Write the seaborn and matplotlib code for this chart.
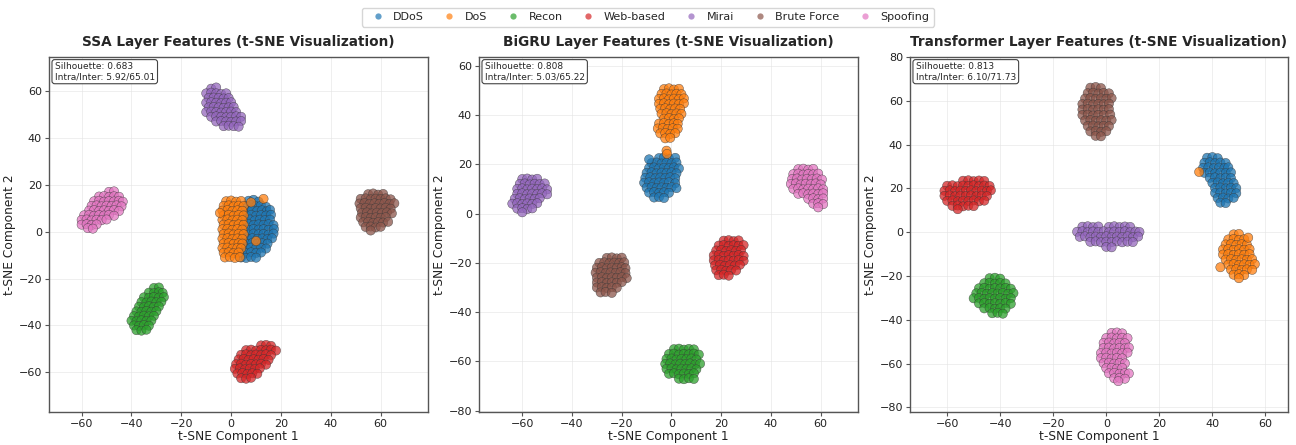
import matplotlib
matplotlib.use("Agg")
import matplotlib.pyplot as plt
from matplotlib.lines import Line2D
import seaborn as sns
import pandas as pd

CLASSES = ["DDoS", "DoS", "Recon", "Web-based", "Mirai", "Brute Force", "Spoofing"]
COLORS = ["#1f77b4", "#ff7f0e", "#2ca02c", "#d62728", "#9467bd", "#8c564b", "#e377c2"]
TITLES = ["SSA Layer Features (t-SNE Visualization)",
          "BiGRU Layer Features (t-SNE Visualization)",
          "Transformer Layer Features (t-SNE Visualization)"]
SILHOUETTE = ["0.683", "0.808", "0.813"]
INTRA_INTER = ["5.92/65.01", "5.03/65.22", "6.10/71.73"]

# ---------------- SSA layer ----------------
SSA_DDOS = [(7,13.2),(9,13.6),(11,12.8),
    (6,11),(8,11.3),(10,10.8),(12,11.2),(14,10.6),
    (6.4,9),(8.4,9.2),(10.4,8.8),(12.4,9.1),(14.3,8.7),(15.6,9.3),
    (6,7),(8,7.2),(10,6.8),(12,7.1),(14,6.9),(16,7.2),
    (5.5,5),(7.5,5.2),(9.5,4.8),(11.5,5.1),(13.5,4.9),(15.6,5.1),
    (5,3),(7,3.2),(9,2.8),(11,3.1),(13,2.9),(15,3.2),(17,2.8),
    (5,1),(7,0.8),(9,1.2),(11,0.9),(13,1.1),(15,0.8),(17.2,1.1),
    (5,-1),(7,-1.2),(9,-0.8),(11,-1.1),(13,-0.9),(15,-1.2),(17,-0.8),
    (4.5,-3),(6.5,-3.2),(8.5,-2.8),(10.5,-3.1),(12.5,-2.9),(14.5,-3.2),(16.4,-2.8),
    (4.5,-5),(6.5,-5.2),(8.5,-4.8),(10.5,-5.1),(12.5,-4.9),(14.6,-5.1),
    (4,-7),(6,-7.2),(8,-6.8),(10,-7.1),(12,-6.9),(14,-7.2),
    (4,-9),(6,-9.2),(8,-8.8),(10,-9.1),(12,-8.9),
    (4,-11),(6,-11.2),(8,-10.8),(10,-11.1)]
SSA_DOS = [(-2,13),(0,13.3),(2,12.8),(4,13.1),
    (-3,11),(-1,11.2),(1,10.8),(3,11.1),(5,10.9),
    (-3.5,9),(-1.5,9.2),(0.5,8.8),(2.5,9.1),(4.5,8.9),
    (-3,7),(-1,7.2),(1,6.8),(3,7.1),(5,6.9),
    (-3.5,5),(-1.5,5.2),(0.5,4.8),(2.5,5.1),(4.5,4.9),
    (-3,3),(-1,3.2),(1,2.8),(3,3.1),(5,2.9),
    (-3.5,1),(-1.5,1.2),(0.5,0.8),(2.5,1.1),(4.5,0.9),
    (-3,-1),(-1,-0.8),(1,-1.2),(3,-0.9),(5,-1.1),
    (-3.5,-3),(-1.5,-2.8),(0.5,-3.2),(2.5,-2.9),(4.5,-3.1),
    (-3,-5),(-1,-4.8),(1,-5.2),(3,-4.9),(4.5,-5.1),
    (-3.5,-7),(-1.5,-6.8),(0.5,-7.2),(2.5,-6.9),(4,-7.1),
    (-3,-9),(-1,-8.8),(1,-9.2),(3,-8.9),
    (-2.5,-11),(-0.5,-10.8),(1.5,-11.2),(3.5,-10.9),
    (13,14),(10,-4),(8,12.5),(-4.5,8)]
SSA_RECON = [(-31,-24),(-29,-23.8),
    (-33,-26),(-31,-26.2),(-29,-25.8),(-27.5,-26.1),
    (-35,-28),(-33,-28.2),(-31,-27.8),(-29,-28.1),(-27,-27.9),
    (-36,-30),(-34,-30.2),(-32,-29.8),(-30,-30.1),(-28,-29.9),
    (-37,-32),(-35,-32.2),(-33,-31.8),(-31,-32.1),(-29,-31.9),
    (-38,-34),(-36,-34.2),(-34,-33.8),(-32,-34.1),(-30,-33.9),
    (-39,-36),(-37,-36.2),(-35,-35.8),(-33,-36.1),(-31,-35.9),
    (-40,-38),(-38,-38.2),(-36,-37.8),(-34,-38.1),(-32,-37.9),
    (-39,-40),(-37,-40.2),(-35,-39.8),(-33,-40.1),
    (-38,-42),(-36,-42.2),(-34,-41.8)]
SSA_WEB = [(12,-48.5),(14,-48.3),(16,-48.7),
    (6,-50.5),(8,-50.3),(10,-50.7),(12,-50.4),(14,-50.6),(16,-50.3),(18,-50.7),
    (4,-52.5),(6,-52.3),(8,-52.7),(10,-52.4),(12,-52.6),(14,-52.3),(16,-52.7),
    (3,-54.5),(5,-54.3),(7,-54.7),(9,-54.4),(11,-54.6),(13,-54.3),(15,-54.7),
    (2,-56.5),(4,-56.3),(6,-56.7),(8,-56.4),(10,-56.6),(12,-56.3),(14,-56.7),
    (1.5,-58.5),(3.5,-58.3),(5.5,-58.7),(7.5,-58.4),(9.5,-58.6),(11.5,-58.3),
    (2.5,-60.5),(4.5,-60.3),(6.5,-60.7),(8.5,-60.4),(10.5,-60.6),
    (4,-62.5),(6,-62.7),(8,-62.3)]
SSA_MIRAI = [(-8,61),(-6,61.5),
    (-10,59),(-8,59.3),(-6,59),(-4,58.7),(-2,59),
    (-9,57),(-7,57.2),(-5,57),(-3,56.8),(-1,57),
    (-10,55),(-8,55.2),(-6,55),(-4,54.8),(-2,55),(0,55.2),
    (-9,53),(-7,53.2),(-5,53),(-3,52.8),(-1,53),(1,53.2),
    (-10,51),(-8,51.2),(-6,51),(-4,50.8),(-2,51),(0,51.2),(2,51),
    (-8,49),(-6,49.2),(-4,49),(-2,48.8),(0,49),(2,49.2),(4,49),
    (-6,47),(-4,47.2),(-2,47),(0,46.8),(2,47),(4,47.2),
    (-3,45),(-1,45.2),(1,45),(3,44.8)]
SSA_BRUTE = [(55,16),(57,16.3),(59,15.8),(61,16.1),
    (52,14),(54,14.2),(56,13.8),(58,14.1),(60,13.9),(62,14.2),(64,13.8),
    (51.5,12),(53.5,12.2),(55.5,11.8),(57.5,12.1),(59.5,11.9),(61.5,12.2),(63.5,11.8),(65.5,12.1),
    (52,10),(54,10.2),(56,9.8),(58,10.1),(60,9.9),(62,10.2),(64,9.8),
    (52.5,8),(54.5,8.2),(56.5,7.8),(58.5,8.1),(60.5,7.9),(62.5,8.2),(64.5,7.8),
    (52,6),(54,6.2),(56,5.8),(58,6.1),(60,5.9),(62,6.2),
    (53,4),(55,4.2),(57,3.8),(59,4.1),(61,3.9),(63,4.2),
    (54,2),(56,2.2),(58,1.8),(60,2.1),(56,0.5)]
SSA_SPOOF = [(-49,17),(-47,17.2),
    (-53,15),(-51,15.2),(-49,14.8),(-47,15.1),(-45,14.9),
    (-55,13),(-53,13.2),(-51,12.8),(-49,13.1),(-47,12.9),(-45,13.2),(-43.5,12.8),
    (-56,11),(-54,11.2),(-52,10.8),(-50,11.1),(-48,10.9),(-46,11.2),(-44,10.8),
    (-57,9),(-55,9.2),(-53,8.8),(-51,9.1),(-49,8.9),(-47,9.2),(-45,8.8),
    (-59,7),(-57,7.2),(-55,6.8),(-53,7.1),(-51,6.9),(-49,7.2),(-47,6.8),
    (-60,5),(-58,5.2),(-56,4.8),(-54,5.1),(-52,4.9),(-50,5.2),
    (-60,3),(-58,3.2),(-56,2.8),(-54,3.1),
    (-57.5,1.5),(-55.5,1.3)]

# ---------------- BiGRU layer ----------------
BIGRU_DDOS = [(-5,22.5),(-3,22.8),(-1,22.3),(1.5,22.6),
    (-8,20.5),(-6,20.7),(-4,20.3),(-2,20.6),(0,20.4),(2,20.7),
    (-9,18.5),(-7,18.7),(-5,18.3),(-3,18.6),(-1,18.4),(1,18.7),(3,18.3),
    (-10,16.5),(-8,16.7),(-6,16.3),(-4,16.6),(-2,16.4),(0,16.7),(2,16.3),
    (-10.5,14.5),(-8.5,14.7),(-6.5,14.3),(-4.5,14.6),(-2.5,14.4),(-0.5,14.7),(1.5,14.3),
    (-11,12.5),(-9,12.7),(-7,12.3),(-5,12.6),(-3,12.4),(-1,12.7),(1.5,12.3),
    (-10,10.5),(-8,10.7),(-6,10.3),(-4,10.6),(-2,10.4),(0,10.7),(2,10.3),
    (-9,8.5),(-7,8.7),(-5,8.3),(-3,8.6),(-1,8.4),
    (-7,6.5),(-5,6.7),(-3,6.3),(-9,22)]
BIGRU_DOS = [(-3,50.5),(-1,50.8),(1,50.3),(3,50.6),
    (-4,48.5),(-2,48.7),(0,48.3),(2,48.6),(4,48.4),
    (-5,46.5),(-3,46.7),(-1,46.3),(1,46.6),(3,46.4),(5,46.7),
    (-5,44.5),(-3,44.7),(-1,44.3),(1,44.6),(3,44.4),(5,44.7),
    (-4.5,42.5),(-2.5,42.7),(-0.5,42.3),(1.5,42.6),(3.5,42.4),
    (-4,40.5),(-2,40.7),(0,40.3),(2,40.6),(4,40.4),
    (-3,38.5),(-1,38.7),(1,38.3),(3,38.6),
    (-5,36.5),(-3,36.7),(-1,36.3),(1,36.6),(2.5,36.4),
    (-5.5,34.5),(-3.5,34.7),(-1.5,34.3),(0.5,34.6),(2.5,34.4),
    (-4.5,32.5),(-2.5,32.7),(-0.5,32.3),(1.5,32.6),
    (-2.5,30.5),(-0.5,30.7),(-2,25.5),(-1.8,24.2)]
BIGRU_RECON = [(1,-55),(3,-54.8),(5,-55.2),(7,-54.9),(9,-55.1),
    (-1,-57),(1,-56.8),(3,-57.2),(5,-56.9),(7,-57.1),(9,-56.8),(11,-57.2),
    (-2,-59),(0,-58.8),(2,-59.2),(4,-58.9),(6,-59.1),(8,-58.8),(10,-59.2),
    (-2.5,-61),(-0.5,-60.8),(1.5,-61.2),(3.5,-60.9),(5.5,-61.1),(7.5,-60.8),(9.5,-61.2),(11.5,-60.9),
    (-2,-63),(0,-62.8),(2,-63.2),(4,-62.9),(6,-63.1),(8,-62.8),(10,-63.2),
    (-1,-65),(1,-64.8),(3,-65.2),(5,-64.9),(7,-65.1),(9,-64.8),
    (3,-67),(5,-67.2),(7,-66.8),(9,-67.1)]
BIGRU_WEB = [(21,-11),(23,-10.8),(25,-11.2),(27,-10.9),
    (19,-13),(21,-12.8),(23,-13.2),(25,-12.9),(27,-13.1),(29,-12.8),
    (18,-15),(20,-14.8),(22,-15.2),(24,-14.9),(26,-15.1),(28,-14.8),
    (17,-17),(19,-16.8),(21,-17.2),(23,-16.9),(25,-17.1),(27,-16.8),(29,-17.2),
    (17,-19),(19,-18.8),(21,-19.2),(23,-18.9),(25,-19.1),(27,-18.8),(29,-19.2),
    (17.5,-21),(19.5,-20.8),(21.5,-21.2),(23.5,-20.9),(25.5,-21.1),(27.5,-20.8),
    (18,-23),(20,-22.8),(22,-23.2),(24,-22.9),(26,-23.1),
    (19,-25),(21,-24.8),(23,-25.2)]
BIGRU_MIRAI = [(-60,14),(-58,14.2),(-56,13.8),(-54,14.1),
    (-61,12),(-59,12.2),(-57,11.8),(-55,12.1),(-53,11.9),(-51,12.2),
    (-62,10),(-60,10.2),(-58,9.8),(-56,10.1),(-54,9.9),(-52,10.2),(-50,9.8),
    (-62,8),(-60,8.2),(-58,7.8),(-56,8.1),(-54,7.9),(-52,8.2),(-50,7.8),
    (-63,6),(-61,6.2),(-59,5.8),(-57,6.1),(-55,5.9),(-53,6.2),
    (-64,4),(-62,4.2),(-60,3.8),(-58,4.1),(-56,3.9),(-54,4.2),
    (-62,2),(-60,2.2),(-58,1.8),(-56,2.1),(-60,0.5)]
BIGRU_BRUTE = [(-26,-18),(-24,-17.8),(-22,-18.2),(-20,-17.9),
    (-29,-20),(-27,-19.8),(-25,-20.2),(-23,-19.9),(-21,-20.1),(-19,-19.8),
    (-30,-22),(-28,-21.8),(-26,-22.2),(-24,-21.9),(-22,-22.1),(-20,-21.8),(-18.5,-22.2),
    (-30.5,-24),(-28.5,-23.8),(-26.5,-24.2),(-24.5,-23.9),(-22.5,-24.1),(-20.5,-23.8),(-18.5,-24.2),
    (-30,-26),(-28,-25.8),(-26,-26.2),(-24,-25.9),(-22,-26.1),(-20,-25.8),(-18,-26.2),
    (-30,-28),(-28,-27.8),(-26,-28.2),(-24,-27.9),(-22,-28.1),(-20,-27.8),
    (-30,-30),(-28,-29.8),(-26,-30.2),(-24,-29.9),(-22,-30.1),
    (-28.5,-32),(-26.5,-31.8),(-24,-32.2)]
BIGRU_SPOOF = [(51,18),(53,18.2),(55,17.8),(57,18.1),
    (49,16),(51,16.2),(53,15.8),(55,16.1),(57,15.9),(59,16.2),
    (48.5,14),(50.5,14.2),(52.5,13.8),(54.5,14.1),(56.5,13.9),(58.5,14.2),(60.5,13.8),
    (48,12),(50,12.2),(52,11.8),(54,12.1),(56,11.9),(58,12.2),(60,11.8),
    (49,10),(51,10.2),(53,9.8),(55,10.1),(57,9.9),(59,10.2),(61,9.8),
    (51,8),(53,8.2),(55,7.8),(57,8.1),(59,7.9),(61,8.2),
    (55,6),(57,6.2),(59,5.8),(61,6.1),
    (57,4),(59,4.2),(61,3.8),(59,2.5)]

# ---------------- Transformer layer ----------------
TRANS_DDOS = [(38,34),(40,34.3),(42,33.8),
    (37,31.7),(39,31.9),(41,31.5),(43,31.8),(45,31.6),
    (36.5,29.4),(38.5,29.6),(40.5,29.2),(42.5,29.5),(44.5,29.3),(46,29.6),
    (37,27.1),(39,27.3),(41,26.9),(43,27.2),(45,27),(47,27.3),
    (39,24.8),(41,25),(43,24.6),(45,24.9),(47,24.7),
    (40,22.5),(42,22.7),(44,22.3),(46,22.6),(48,22.4),
    (41,20.2),(43,20.4),(45,20),(47,20.3),(49,20.1),
    (41,17.9),(43,18.1),(45,17.7),(47,18),(49,17.8),
    (42,15.6),(44,15.8),(46,15.4),(48,15.7),
    (43,13.5),(45,13.3)]
TRANS_DOS = [(48,-1),(50,-0.8),
    (46,-3.3),(48,-3.1),(50,-3.5),(52,-3.2),
    (45,-5.6),(47,-5.4),(49,-5.8),(51,-5.5),(53,-5.7),
    (44,-7.9),(46,-7.7),(48,-8.1),(50,-7.8),(52,-8),(54,-7.7),
    (44,-10.2),(46,-10),(48,-10.4),(50,-10.1),(52,-10.3),(54,-10),
    (45,-12.5),(47,-12.3),(49,-12.7),(51,-12.4),(53,-12.6),(55,-12.3),
    (46,-14.8),(48,-14.6),(50,-15),(52,-14.7),(54,-14.9),(56,-14.6),
    (47,-17.1),(49,-16.9),(51,-17.3),(53,-17),(55,-17.2),
    (48,-19.4),(50,-19.2),(52,-19.6),(50,-21),
    (53.5,-2.5),(43,-16),(35,27.5)]
TRANS_RECON = [(-44,-21),(-42,-20.8),(-40,-21.2),
    (-46,-23.3),(-44,-23.1),(-42,-23.5),(-40,-23.2),(-38,-23.4),
    (-48,-25.6),(-46,-25.4),(-44,-25.8),(-42,-25.5),(-40,-25.7),(-38,-25.4),(-36,-25.8),
    (-49,-27.9),(-47,-27.7),(-45,-28.1),(-43,-27.8),(-41,-28),(-39,-27.7),(-37,-28.1),(-35,-27.8),
    (-50,-30.2),(-48,-30),(-46,-30.4),(-44,-30.1),(-42,-30.3),(-40,-30),(-38,-30.4),(-36,-30.1),
    (-48,-32.5),(-46,-32.3),(-44,-32.7),(-42,-32.4),(-40,-32.6),(-38,-32.3),(-36,-32.7),
    (-46,-34.8),(-44,-34.6),(-42,-35),(-40,-34.7),(-38,-34.9),
    (-43,-37),(-41,-36.8),(-39,-37.2)]
TRANS_WEB = [(-54,23.5),(-52,23.7),(-50,23.3),(-48,23.6),(-46,23.4),
    (-60,21.2),(-58,21.4),(-56,21),(-54,21.3),(-52,21.1),(-50,21.4),(-48,21),(-46,21.3),(-44,21.1),
    (-61,18.9),(-59,19.1),(-57,18.7),(-55,19),(-53,18.8),(-51,19.1),(-49,18.7),(-47,19),(-45,18.8),(-43.5,19.1),
    (-61,16.6),(-59,16.8),(-57,16.4),(-55,16.7),(-53,16.5),(-51,16.8),(-49,16.4),(-47,16.7),(-45,16.5),
    (-60,14.3),(-58,14.5),(-56,14.1),(-54,14.4),(-52,14.2),(-50,14.5),(-48,14.1),(-46,14.4),
    (-58,12),(-56,12.2),(-54,11.8),(-52,12.1),(-50,11.9),(-56,10.5)]
TRANS_MIRAI = [(-9,2.5),(-7,2.7),(-5,2.3),(-3,2.6),(1,2.4),(3,2.7),(5,2.3),(7,2.6),(9,2.4),
    (-11,0.2),(-9,0.4),(-7,0),(-5,0.3),(-3,0.1),(-1,0.4),(1,0),(3,0.3),(5,0.1),(7,0.4),(9,0),(11,0.3),(12.5,0.1),
    (-10,-2.1),(-8,-1.9),(-6,-2.3),(-4,-2),(-2,-2.2),(0,-1.9),(2,-2.3),(4,-2),(6,-2.2),(8,-1.9),(10,-2.3),(12,-2),
    (-6,-4.4),(-4,-4.2),(-2,-4.6),(0,-4.3),(2,-4.5),(4,-4.2),(6,-4.6),(8,-4.3),(10,-4.5),
    (0,-6.7),(2,-6.9)]
TRANS_BRUTE = [(-6,66),(-4,66.3),(-2,65.8),
    (-7,63.5),(-5,63.7),(-3,63.3),(-1,63.6),(1,63.4),
    (-8,61),(-6,61.2),(-4,60.8),(-2,61.1),(0,60.9),(2,61.2),
    (-9,58.5),(-7,58.7),(-5,58.3),(-3,58.6),(-1,58.4),(1,58.7),
    (-9,56),(-7,56.2),(-5,55.8),(-3,56.1),(-1,55.9),(1,56.2),
    (-9,53.5),(-7,53.7),(-5,53.3),(-3,53.6),(-1,53.4),(1.5,53.7),
    (-8,51),(-6,51.2),(-4,50.8),(-2,51.1),(0,50.9),(2,51.2),
    (-7,48.5),(-5,48.7),(-3,48.3),(-1,48.6),(1,48.4),
    (-6,46),(-4,46.2),(-2,45.8),(0,46.1),
    (-4,44),(-2,43.8)]
TRANS_SPOOF = [(2,-46),(4,-45.8),(6,-46.2),
    (0,-48.3),(2,-48.1),(4,-48.5),(6,-48.2),(8,-48.4),
    (-1,-50.6),(1,-50.4),(3,-50.8),(5,-50.5),(7,-50.7),
    (-1,-52.9),(1,-52.7),(3,-53.1),(5,-52.8),(7,-53),(8.5,-52.7),
    (-2,-55.2),(0,-55),(2,-55.4),(4,-55.1),(6,-55.3),(8,-55),
    (-2,-57.5),(0,-57.3),(2,-57.7),(4,-57.4),(6,-57.6),
    (-1,-59.8),(1,-59.6),(3,-60),(5,-59.7),(7,-59.9),
    (0,-62.1),(2,-61.9),(4,-62.3),(6,-62),
    (1,-64.4),(3,-64.2),(5,-64.6),(7,-64.3),(8.5,-64.5),
    (3,-66.7),(5,-66.5),(7,-66.9),(4.5,-68)]

PANELS = [
    [SSA_DDOS, SSA_DOS, SSA_RECON, SSA_WEB, SSA_MIRAI, SSA_BRUTE, SSA_SPOOF],
    [BIGRU_DDOS, BIGRU_DOS, BIGRU_RECON, BIGRU_WEB, BIGRU_MIRAI, BIGRU_BRUTE, BIGRU_SPOOF],
    [TRANS_DDOS, TRANS_DOS, TRANS_RECON, TRANS_WEB, TRANS_MIRAI, TRANS_BRUTE, TRANS_SPOOF],
]

XLIMS = [(-73.1, 79.0), (-77.4, 75.0), (-74.0, 68.5)]
YLIMS = [(-76.9, 74.5), (-80.5, 63.5), (-82.1, 80.0)]
XTICKS = [-60, -40, -20, 0, 20, 40, 60]
YTICKS = [[-60, -40, -20, 0, 20, 40, 60],
          [-80, -60, -40, -20, 0, 20, 40, 60],
          [-80, -60, -40, -20, 0, 20, 40, 60, 80]]

sns.set_style("white")
plt.rcParams["font.family"] = ["DejaVu Sans"]

W, H = 1296, 445
fig = plt.figure(figsize=(W / 100, H / 100), dpi=100)
ax_px = [(49, 428), (479, 858), (910, 1288)]
top_px, bot_px = 57, 412

palette = dict(zip(CLASSES, COLORS))

for i, clusters in enumerate(PANELS):
    l, r = ax_px[i]
    ax = fig.add_axes([l / W, 1 - bot_px / H, (r - l) / W, (bot_px - top_px) / H])
    rows = []
    for cls, pts in zip(CLASSES, clusters):
        for (x, y) in pts:
            rows.append({"x": x, "y": y, "label": cls})
    df = pd.DataFrame(rows)
    sns.scatterplot(data=df, x="x", y="y", hue="label", hue_order=CLASSES,
                    palette=palette, s=44, alpha=0.75, edgecolor="#333333",
                    linewidth=0.35, ax=ax, legend=False, zorder=3)
    ax.set_xlim(*XLIMS[i])
    ax.set_ylim(*YLIMS[i])
    ax.set_xticks(XTICKS)
    ax.set_yticks(YTICKS[i])
    ax.grid(True, color="#e4e4e4", linewidth=0.6, alpha=0.7, zorder=0)
    ax.set_axisbelow(True)
    for sp in ax.spines.values():
        sp.set_color("#555555")
        sp.set_linewidth(1.0)
    ax.tick_params(axis="both", labelsize=8, length=3, width=0.8, pad=2,
                   color="#555555", labelcolor="#222222", left=True, bottom=True)
    ax.set_xlabel("t-SNE Component 1", fontsize=8.8, color="#222222", labelpad=1)
    ax.set_ylabel("t-SNE Component 2", fontsize=8.8, color="#222222", labelpad=2)
    ax.set_title(TITLES[i], fontsize=9.8, fontweight="bold", pad=8)
    ax.text(0.015, 0.985, f"Silhouette: {SILHOUETTE[i]}\nIntra/Inter: {INTRA_INTER[i]}",
            transform=ax.transAxes, va="top", ha="left", fontsize=6.5,
            linespacing=1.1,
            bbox=dict(boxstyle="round,pad=0.3", facecolor="white",
                      edgecolor="#444444", linewidth=0.8), zorder=5)

handles = [Line2D([0], [0], marker="o", linestyle="", markersize=4.5,
                  markerfacecolor=c, markeredgewidth=0, alpha=0.7) for c in COLORS]
fig.legend(handles, CLASSES, loc="upper center", bbox_to_anchor=(0.5, 0.995),
           ncol=7, fontsize=8, frameon=True, edgecolor="#cccccc",
           columnspacing=1.3, handletextpad=0.4, borderpad=0.4)

fig.savefig("out.png", dpi=100)
